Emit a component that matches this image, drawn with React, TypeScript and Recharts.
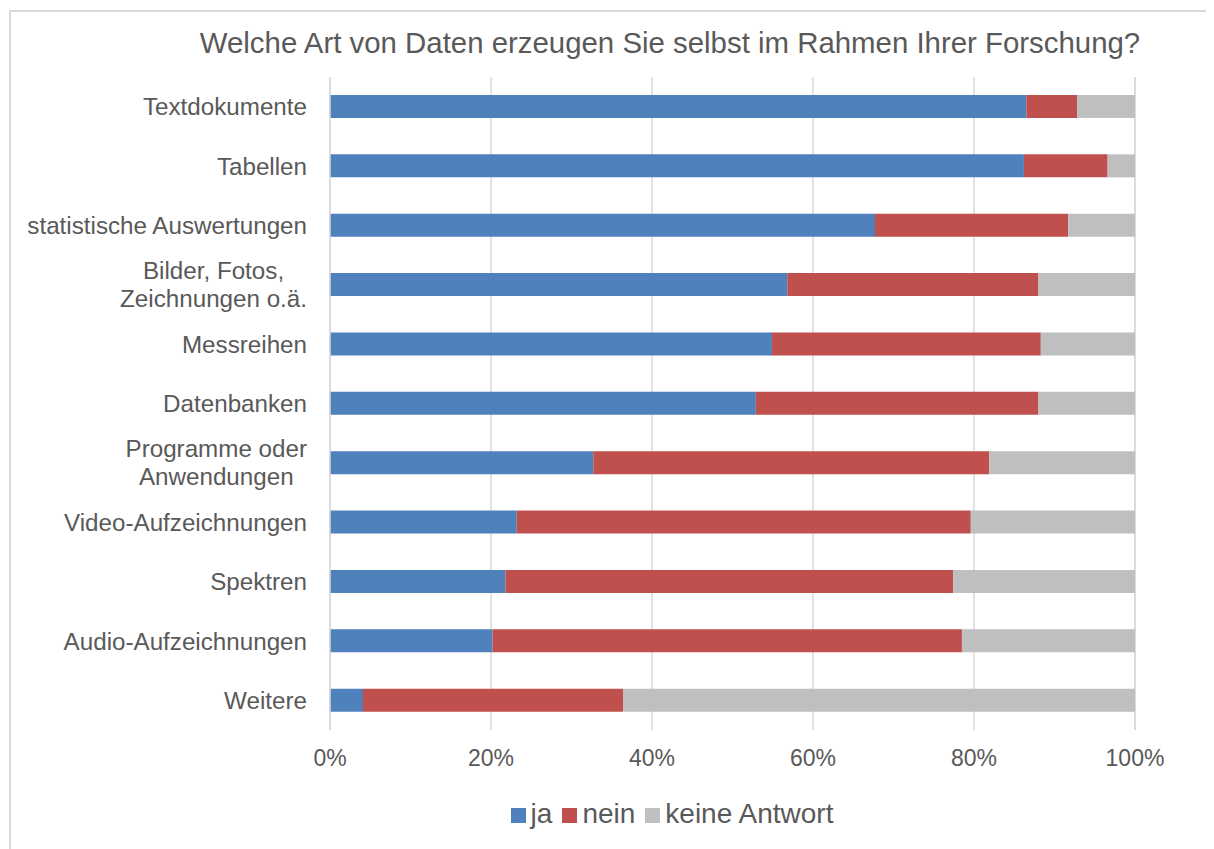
import { Bar, BarChart, CartesianGrid, Legend, XAxis, YAxis } from "recharts";

const categories = [
  "Textdokumente",
  "Tabellen",
  "statistische Auswertungen",
  "Bilder, Fotos,\nZeichnungen o.ä.",
  "Messreihen",
  "Datenbanken",
  "Programme oder\nAnwendungen",
  "Video-Aufzeichnungen",
  "Spektren",
  "Audio-Aufzeichnungen",
  "Weitere",
];

const ja = [86.5, 86.2, 67.7, 56.8, 54.9, 52.9, 32.7, 23.2, 21.8, 20.2, 4.1];
const nein = [6.3, 10.4, 24.0, 31.2, 33.4, 35.1, 49.2, 56.4, 55.6, 58.3, 32.3];
const keineAntwort = [7.2, 3.4, 8.3, 12.0, 11.7, 12.0, 18.1, 20.4, 22.6, 21.5, 63.6];

const xTicks = [0, 20, 40, 60, 80, 100];

const series = [
  { key: "ja", name: "ja", color: "#4F81BD" },
  { key: "nein", name: "nein", color: "#C0504D" },
  { key: "keine", name: "keine Antwort", color: "#BFBFBF" },
];

const data = categories.map((c, i) => ({
  name: c,
  ja: ja[i],
  nein: nein[i],
  keine: keineAntwort[i],
}));

const FONT = '"Liberation Sans", Arial, sans-serif';
const TEXT = "#595959";
const GRID = "#D9D9D9";
const CAT_SIZE = 24.2;

let ctx: CanvasRenderingContext2D | null = null;
function textWidth(s: string) {
  if (!ctx) ctx = document.createElement("canvas").getContext("2d");
  if (!ctx) return s.length * CAT_SIZE * 0.5;
  ctx.font = `${CAT_SIZE}px ${FONT}`;
  return ctx.measureText(s).width;
}

function CategoryTick({ x, y, payload }: any) {
  const lines: string[] = String(payload.value).split("\n");
  if (lines.length === 1) {
    return (
      <text x={x} y={y} dy="0.355em" textAnchor="end" fill={TEXT} fontSize={CAT_SIZE} fontFamily={FONT}>
        {lines[0]}
      </text>
    );
  }
  const w = Math.max(...lines.map(textWidth));
  const cx = x - w / 2;
  return (
    <text textAnchor="middle" fill={TEXT} fontSize={CAT_SIZE} fontFamily={FONT}>
      {lines.map((l, i) => (
        <tspan key={i} x={cx} y={y + (i - (lines.length - 1) / 2) * 28} dy="0.355em">
          {l}
        </tspan>
      ))}
    </text>
  );
}

function LegendContent() {
  return (
    <div
      style={{
        display: "flex",
        justifyContent: "center",
        alignItems: "center",
        paddingLeft: 132,
        fontFamily: FONT,
        fontSize: 28,
        lineHeight: "28px",
        color: TEXT,
      }}
    >
      {series.map((s) => (
        <div key={s.key} style={{ display: "flex", alignItems: "center", marginRight: 10 }}>
          <span style={{ width: 15, height: 15, background: s.color, display: "inline-block", marginRight: 5, marginTop: 3 }} />
          <span>{s.name}</span>
        </div>
      ))}
    </div>
  );
}

export default function App() {
  return (
    <div style={{ position: "relative", width: 1206, height: 841, overflow: "hidden", fontFamily: FONT }}>
      <div
        style={{
          position: "absolute",
          left: 1,
          top: 2,
          width: 1230,
          height: 870,
          border: `2px solid ${GRID}`,
          boxSizing: "border-box",
        }}
      />
      <div
        style={{
          position: "absolute",
          left: 662,
          top: 20,
          transform: "translateX(-50%)",
          whiteSpace: "nowrap",
          fontSize: 29.4,
          lineHeight: "29px",
          color: TEXT,
        }}
      >
        Welche Art von Daten erzeugen Sie selbst im Rahmen Ihrer Forschung?
      </div>
      <BarChart
        width={1206}
        height={841}
        data={data}
        layout="vertical"
        margin={{ top: 69, right: 79, bottom: 79, left: 0 }}
        barSize={23}
      >
        <CartesianGrid horizontal={false} stroke={GRID} strokeWidth={1.5} />
        <XAxis
          type="number"
          domain={[0, 100]}
          ticks={xTicks}
          tickFormatter={(v: number) => `${v}%`}
          axisLine={false}
          tickLine={false}
          tickSize={0}
          tickMargin={20}
          height={40}
          tick={{ fill: TEXT, fontSize: 23, fontFamily: FONT }}
        />
        <YAxis
          type="category"
          dataKey="name"
          width={322}
          axisLine={{ stroke: GRID, strokeWidth: 1.5 }}
          tickLine={false}
          tickSize={0}
          tickMargin={23}
          interval={0}
          tick={<CategoryTick />}
        />
        <Legend
          layout="horizontal"
          verticalAlign="middle"
          align="center"
          wrapperStyle={{ top: 792, left: 0, width: 1206 }}
          content={<LegendContent />}
        />
        {series.map((s) => (
          <Bar key={s.key} dataKey={s.key} name={s.name} stackId="a" fill={s.color} isAnimationActive={false} />
        ))}
      </BarChart>
    </div>
  );
}
